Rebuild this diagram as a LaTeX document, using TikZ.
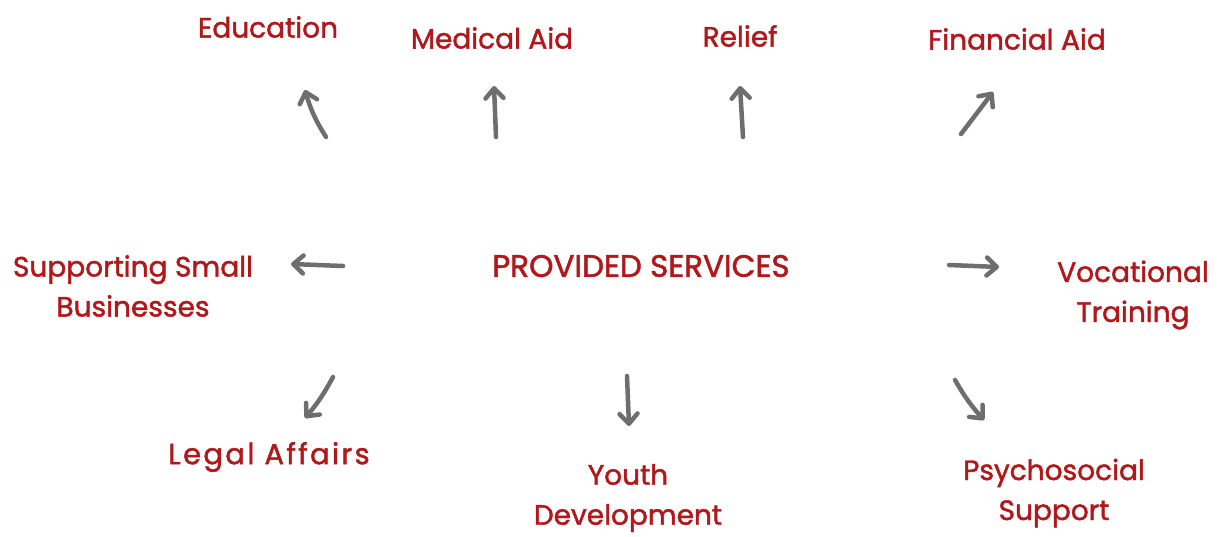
\documentclass[tikz,border=0pt]{standalone}
\usepackage{fontspec}
\setmainfont{Poppins}[FakeBold=1.6]
\usetikzlibrary{arrows.meta}
\definecolor{lbl}{HTML}{B0181C}
\definecolor{arr}{HTML}{6E6E6E}
\tikzset{
  lab/.style={text=lbl, font=\fontsize{28}{40}\selectfont, align=center, inner sep=0pt},
  conn/.style={draw=arr, line width=4.5pt, line cap=round, line join=round,
    -{Straight Barb[length=10pt,width=18pt,line width=4.5pt,round]}},
}
\begin{document}
\begin{tikzpicture}[x=1pt,y=-1pt]
\useasboundingbox (0,0) rectangle (1222,536);
\node[lab] (edu) at (268,27) {Education};
\node[lab] (med) at (492,38) {Medical Aid};
\node[lab] (rel) at (740,36) {Relief};
\node[lab] (fin) at (1017,39) {Financial Aid};
\node[lab] (sup) at (133,286) {Supporting Small\\Businesses};
\node[lab, font=\fontsize{31}{40}\selectfont] (ps) at (641,266) {PROVIDED SERVICES};
\node[lab] (voc) at (1133,295) {Vocational\\Training};
\node[lab, font=\fontsize{29}{40}\selectfont\addfontfeature{LetterSpace=8}] (leg) at (269,457) {Legal Affairs};
\node[lab] (you) at (628,498) {Youth\\Development};
\node[lab] (psy) at (1054,493) {Psychosocial\\Support};
% arrow end points
\coordinate (a1s) at (326,137); \coordinate (a1e) at (305,90);
\coordinate (a2s) at (496,137); \coordinate (a2e) at (494,86);
\coordinate (a3s) at (743,137); \coordinate (a3e) at (740,86);
\coordinate (a4s) at (961,134); \coordinate (a4e) at (993,92);
\coordinate (a5s) at (343,266); \coordinate (a5e) at (291,264);
\coordinate (a6s) at (949,265); \coordinate (a6e) at (999,267);
\coordinate (a7s) at (333,377); \coordinate (a7e) at (305,418);
\coordinate (a8s) at (627,376); \coordinate (a8e) at (629,426);
\coordinate (a9s) at (955,380); \coordinate (a9e) at (984,420);
\draw[conn] (a1s) to[bend left=8] (a1e);
\draw[conn] (a2s) -- (a2e);
\draw[conn] (a3s) -- (a3e);
\draw[conn] (a4s) -- (a4e);
\draw[conn] (a5s) -- (a5e);
\draw[conn] (a6s) -- (a6e);
\draw[conn] (a7s) to[bend left=6] (a7e);
\draw[conn] (a8s) -- (a8e);
\draw[conn] (a9s) to[bend right=6] (a9e);
\end{tikzpicture}
\end{document}
